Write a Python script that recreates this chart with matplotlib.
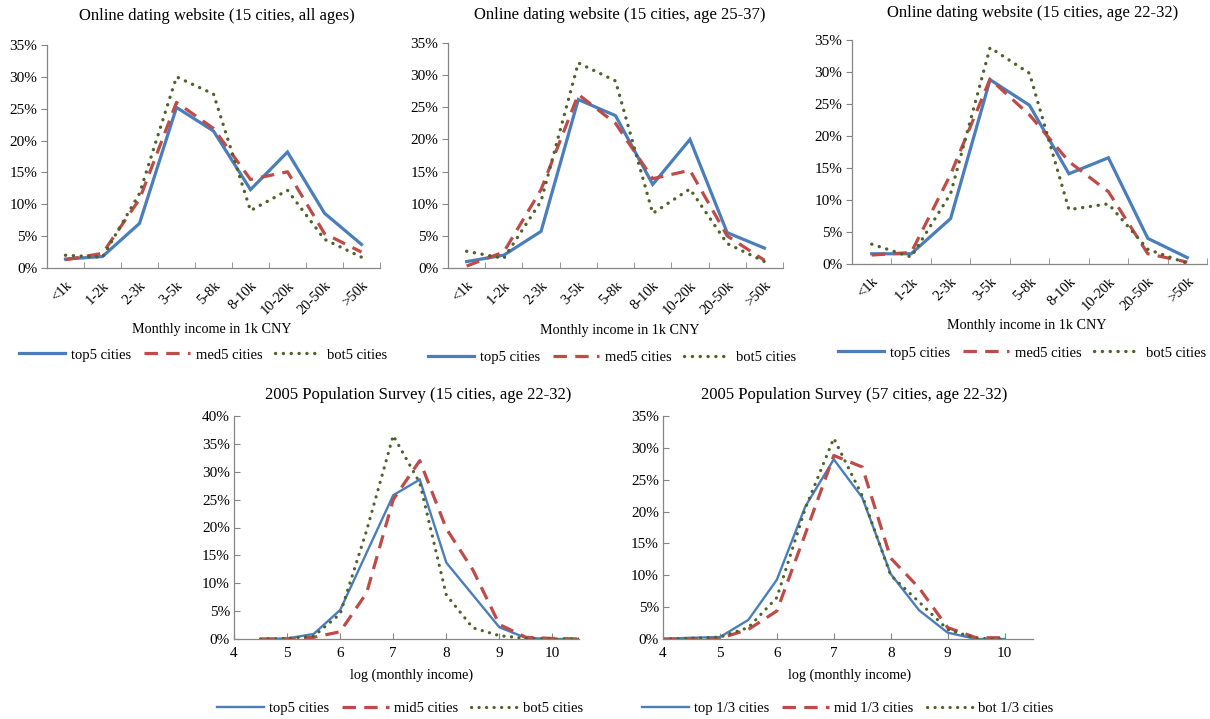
import matplotlib
matplotlib.use("Agg")
import matplotlib.pyplot as plt
from matplotlib.ticker import FuncFormatter, MultipleLocator, FixedLocator
import numpy as np

plt.rcParams['font.family'] = ['Liberation Serif', 'DejaVu Serif']

W, H = 1210, 719

# ---- Online dating website: income brackets ----
income_bins = ["<1k", "1-2k", "2-3k", "3-5k", "5-8k", "8-10k", "10-20k", "20-50k", ">50k"]

all_top5 = [1.4, 1.8, 7.0, 25.2, 21.5, 12.3, 18.2, 8.6, 3.7]
all_med5 = [1.3, 2.3, 10.8, 26.0, 21.9, 13.9, 15.1, 5.4, 2.5]
all_bot5 = [2.0, 1.7, 11.7, 30.0, 27.3, 9.0, 12.2, 4.5, 1.7]

a2537_top5 = [1.0, 2.0, 5.7, 26.2, 23.7, 13.0, 20.0, 5.5, 3.1]
a2537_med5 = [0.3, 2.5, 12.2, 27.0, 22.5, 13.9, 15.2, 5.0, 1.2]
a2537_bot5 = [2.6, 1.5, 10.4, 31.9, 29.1, 8.5, 12.3, 3.8, 1.0]

a2232_top5 = [1.6, 1.6, 7.1, 28.8, 24.8, 14.1, 16.6, 4.0, 1.0]
a2232_med5 = [1.4, 1.8, 14.0, 28.9, 23.3, 16.0, 11.3, 1.6, 0.3]
a2232_bot5 = [3.1, 1.1, 11.0, 33.8, 29.8, 8.5, 9.4, 2.3, 0.1]

# ---- 2005 Population Survey: log monthly income ----
log_inc_15 = [4.5, 5.0, 5.5, 6.0, 6.5, 7.0, 7.5, 8.0, 8.5, 9.0, 9.5, 10.0, 10.5]
s15_top5 = [0.0, 0.1, 0.9, 5.2, 15.5, 25.8, 28.6, 13.7, 7.9, 2.1, 0.2, 0.0, 0.0]
s15_mid5 = [0.0, 0.0, 0.3, 1.3, 8.3, 25.0, 32.0, 19.8, 12.4, 2.6, 0.3, 0.1, 0.0]
s15_bot5 = [0.0, 0.1, 0.5, 4.5, 19.5, 36.5, 28.0, 7.9, 2.0, 0.6, 0.1, 0.0, 0.0]

log_inc_57 = [4.0, 4.5, 5.0, 5.5, 6.0, 6.5, 7.0, 7.5, 8.0, 8.5, 9.0, 9.5, 10.0]
s57_top = [0.0, 0.2, 0.3, 3.0, 9.3, 20.8, 28.2, 22.2, 10.2, 4.5, 1.0, 0.0, 0.0]
s57_mid = [0.0, 0.0, 0.1, 1.5, 4.4, 16.5, 28.8, 27.0, 12.7, 8.0, 1.8, 0.2, 0.2]
s57_bot = [0.0, 0.1, 0.3, 1.8, 6.5, 20.5, 31.5, 22.5, 10.0, 5.8, 1.5, 0.1, 0.0]

BLUE = "#4A7EBB"
RED = "#BE4B48"
GREEN = "#4F6228"
AXCOL = "#868686"
FS = 10.5


def px_axes(left, right, top, bottom):
    return fig.add_axes([left / W, 1 - bottom / H, (right - left) / W, (bottom - top) / H])


def pct(v, pos):
    return "%d%%" % round(v)


def style_axes(ax, ytick_dir):
    for s in ("top", "right"):
        ax.spines[s].set_visible(False)
    for s in ("left", "bottom"):
        ax.spines[s].set_color(AXCOL)
        ax.spines[s].set_linewidth(0.9)
    ax.yaxis.set_major_formatter(FuncFormatter(pct))
    ax.tick_params(axis="y", direction=ytick_dir, length=4, color=AXCOL,
                   labelsize=11, pad=3)
    ax.tick_params(axis="x", color=AXCOL, labelsize=FS)


def draw_lines(ax, x, top, mid, bot, labels, lw_top, lw_mid, lw_bot):
    ax.plot(x, top, color=BLUE, lw=lw_top, solid_joinstyle="miter", label=labels[0])
    ax.plot(x, mid, color=RED, lw=lw_mid, dashes=(4.2, 2.6), dash_capstyle="butt",
            label=labels[1])
    ax.plot(x, bot, color=GREEN, lw=lw_bot, dashes=(0.05, 2.3), dash_capstyle="round",
            label=labels[2])


def add_legend(ax, cx, cy):
    ax.legend(loc="center", bbox_to_anchor=(cx / W, 1 - cy / H),
              bbox_transform=fig.transFigure, ncol=3, frameon=False,
              fontsize=FS, handlelength=3.2, handletextpad=0.35,
              columnspacing=0.9, borderpad=0)


fig = plt.figure(figsize=(W / 100, H / 100), dpi=100)

online_panels = [
    ((47, 380, 45, 268), "Online dating website (15 cities, all ages)", (217, 16),
     (212, 330), (203, 355), all_top5, all_med5, all_bot5),
    ((448, 783, 43, 268), "Online dating website (15 cities, age 25-37)", (620, 15),
     (620, 331), (612, 357), a2537_top5, a2537_med5, a2537_bot5),
    ((852, 1207, 40, 264), "Online dating website (15 cities, age 22-32)", (1033, 13),
     (1027, 326), (1022, 353), a2232_top5, a2232_med5, a2232_bot5),
]

for box, title, tpos, xlpos, lgpos, top, med, bot in online_panels:
    ax = px_axes(*box)
    x = np.arange(len(income_bins))
    draw_lines(ax, x, top, med, bot, ["top5 cities", "med5 cities", "bot5 cities"],
               2.3, 2.3, 2.4)
    ax.set_xlim(-0.5, len(income_bins) - 0.5)
    ax.set_ylim(0, 35)
    ax.yaxis.set_major_locator(MultipleLocator(5))
    style_axes(ax, "out")
    ax.set_xticks(x)
    ax.set_xticklabels(income_bins, rotation=45, ha="right", rotation_mode="anchor")
    ax.tick_params(axis="x", which="major", length=0, pad=8)
    ax.xaxis.set_minor_locator(FixedLocator(np.arange(-0.5, len(income_bins), 1.0)))
    ax.tick_params(axis="x", which="minor", direction="in", length=4, color=AXCOL)
    fig.text(tpos[0] / W, 1 - tpos[1] / H, title, ha="center", va="center", fontsize=12)
    fig.text(xlpos[0] / W, 1 - xlpos[1] / H, "Monthly income in 1k CNY",
             ha="center", va="center", fontsize=10.2)
    add_legend(ax, *lgpos)

survey_panels = [
    ((234, 579, 416, 639), "2005 Population Survey (15 cities, age 22-32)", (418, 395),
     (412, 675), (400, 708), 40, log_inc_15, s15_top5, s15_mid5, s15_bot5,
     ["top5 cities", "mid5 cities", "bot5 cities"]),
    ((663, 1033, 416, 639), "2005 Population Survey (57 cities, age 22-32)", (854, 395),
     (850, 675), (848, 708), 35, log_inc_57, s57_top, s57_mid, s57_bot,
     ["top 1/3 cities", "mid 1/3 cities", "bot 1/3 cities"]),
]

for box, title, tpos, xlpos, lgpos, ymax, x, top, mid, bot, labels in survey_panels:
    ax = px_axes(*box)
    draw_lines(ax, x, top, mid, bot, labels, 1.7, 2.3, 2.3)
    ax.set_xlim(4, 10.5)
    ax.set_ylim(0, ymax)
    ax.yaxis.set_major_locator(MultipleLocator(5))
    ax.set_xticks(range(4, 11))
    style_axes(ax, "in")
    ax.tick_params(axis="x", direction="in", length=4, pad=6, labelsize=11)
    fig.text(tpos[0] / W, 1 - tpos[1] / H, title, ha="center", va="center", fontsize=12)
    fig.text(xlpos[0] / W, 1 - xlpos[1] / H, "log (monthly income)",
             ha="center", va="center", fontsize=10.2)
    add_legend(ax, *lgpos)

fig.savefig("out.png", dpi=100)
